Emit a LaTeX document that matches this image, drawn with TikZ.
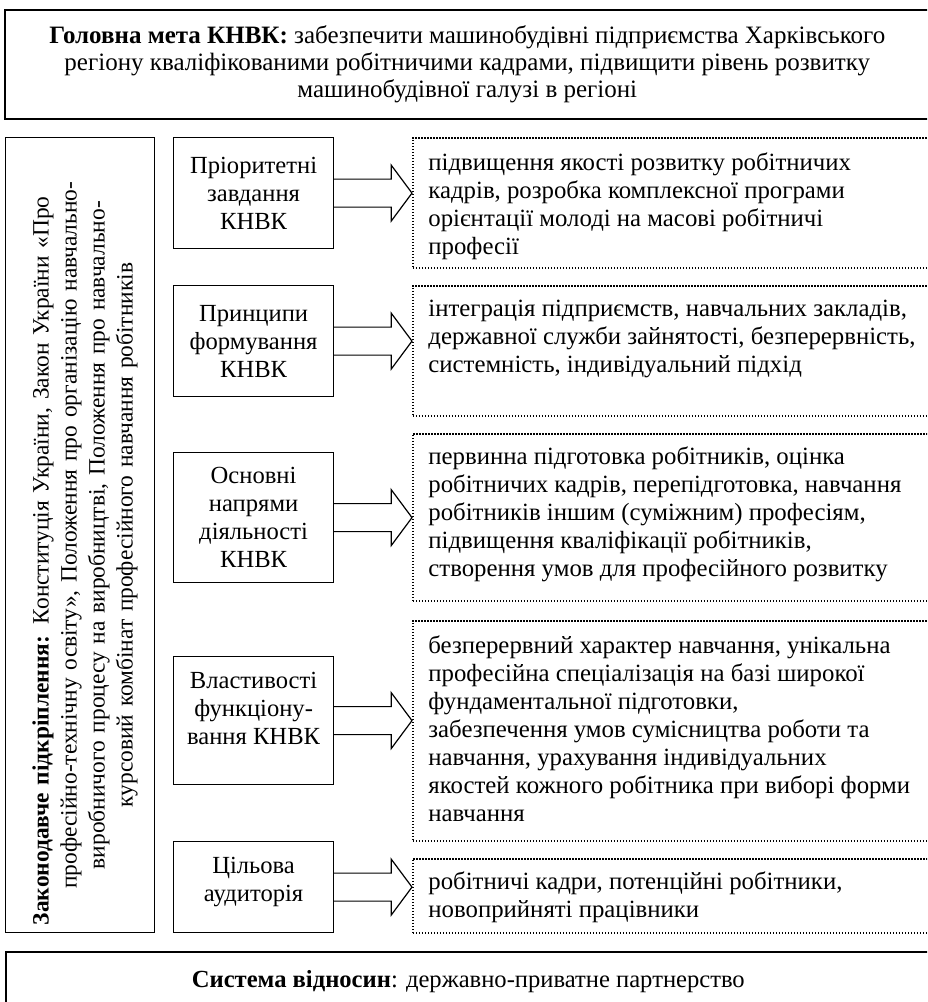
\documentclass[tikz,border=0pt]{standalone}
\usepackage{fontspec}
\setmainfont{Liberation Serif}
\usetikzlibrary{positioning,calc}

\begin{document}
\begin{tikzpicture}[
    font=\fontsize{12.3pt}{14pt}\selectfont,
    goalbox/.style={
        draw=black,
        line width=0.8pt,
        align=center,
        inner sep=0pt,
        minimum width=462.5pt,
        anchor=north west
    },
    lawbox/.style={
        draw=black,
        line width=0.6pt,
        minimum width=74.5pt,
        minimum height=397.5pt,
        anchor=north west
    },
    taskbox/.style={
        draw=black,
        line width=0.6pt,
        align=center,
        inner sep=2pt,
        minimum width=80pt,
        anchor=north west
    },
    infobox/.style={
        draw=black,
        line width=0.8pt,
        dash pattern=on 0.75pt off 0.75pt,
        minimum width=264pt,
        anchor=north west
    },
    infotext/.style={
        align=left,
        inner sep=0pt,
        font=\fontsize{12.4pt}{14pt}\selectfont,
        anchor=north west
    },
    blockarrow/.style={
        draw=black,
        line width=0.6pt,
        line join=miter
    }
]

% Page frame
\useasboundingbox (0,0) rectangle (463.5pt,-501pt);
\clip (0,0) rectangle (463.5pt,-501pt);

% Main goal
\node[goalbox, minimum height=54.5pt, font=\fontsize{12.5pt}{13.5pt}\selectfont] (goal) at (2pt,-4.5pt) {
    \textbf{Головна мета КНВК:} забезпечити машинобудівні підприємства Харківського\\
    регіону кваліфікованими робітничими кадрами, підвищити рівень розвитку\\
    машинобудівної галузі в регіоні
};

% Legal basis (vertical)
\node[lawbox] (law) at (2.5pt,-68.5pt) {};
\node[rotate=90, text width=390pt, align=center, inner sep=0pt,
      font=\fontsize{11.7pt}{14pt}\selectfont] (lawtext) at ([xshift=2.5pt]law.center) {
    \makebox[390pt][s]{\textbf{Законодавче підкріплення:} Конституція України, Закон України «Про}\\
    професійно-технічну освіту», Положення про організацію навчально-\\
    виробничого процесу на виробництві, Положення про навчально-\\
    курсовий комбінат професійного навчання робітників
};

% Task boxes
\node[taskbox, minimum height=55.5pt] (task1) at (86.5pt,-68.5pt) {Пріоритетні\\завдання\\КНВК};
\node[taskbox, minimum height=55.5pt] (task2) at (86.5pt,-142.5pt) {Принципи\\формування\\КНВК};
\node[taskbox, minimum height=65pt] (task3) at (86.5pt,-226pt) {Основні\\напрями\\діяльності\\КНВК};
\node[taskbox, minimum height=64pt] (task4) at (86.5pt,-328pt) {Властивості\\функціону-\\вання КНВК\\[-2pt]\mbox{}};
\node[taskbox, minimum height=45.5pt] (task5) at (86.5pt,-420.5pt) {Цільова\\аудиторія\\[-6pt]\mbox{}};

% Dotted description boxes
\node[infobox, minimum height=65pt] (info1) at (206pt,-68.5pt) {};
\node[infobox, minimum height=65pt] (info2) at (206pt,-142.5pt) {};
\node[infobox, minimum height=83.5pt] (info3) at (206pt,-216.5pt) {};
\node[infobox, minimum height=110pt] (info4) at (206pt,-310pt) {};
\node[infobox, minimum height=37pt] (info5) at (206pt,-429pt) {};

\node[infotext] (text1) at ([xshift=8pt,yshift=-7.5pt]info1.north west) {
    підвищення якості розвитку робітничих\\
    кадрів, розробка комплексної програми\\
    орієнтації молоді на масові робітничі\\
    професії
};
\node[infotext] (text2) at ([xshift=8pt,yshift=-7.5pt]info2.north west) {
    інтеграція підприємств, навчальних закладів,\\
    державної служби зайнятості, безперервність,\\
    системність, індивідуальний підхід
};
\node[infotext] (text3) at ([xshift=8pt,yshift=-6.5pt]info3.north west) {
    первинна підготовка робітників, оцінка\\
    робітничих кадрів, перепідготовка, навчання\\
    робітників іншим (суміжним) професіям,\\
    підвищення кваліфікації робітників,\\
    створення умов для професійного розвитку
};
\node[infotext] (text4) at ([xshift=8pt,yshift=-7.5pt]info4.north west) {
    безперервний характер навчання, унікальна\\
    професійна спеціалізація на базі широкої\\
    фундаментальної підготовки,\\
    забезпечення умов сумісництва роботи та\\
    навчання, урахування індивідуальних\\
    якостей кожного робітника при виборі форми\\
    навчання
};
\node[infotext] (text5) at ([xshift=8pt,yshift=-6.5pt]info5.north west) {
    робітничі кадри, потенційні робітники,\\
    новоприйняті працівники
};

% Block arrows
\foreach \i in {1,...,5}
    \draw[blockarrow] ([yshift=7pt]task\i.east) -- ++(28.5pt,0) -- ++(0,7pt)
        -- (info\i.west |- task\i.east)
        -- ($(task\i.east)+(28.5pt,-14pt)$) -- ++(0,7pt) -- ([yshift=-7pt]task\i.east);

% Relations
\node[goalbox, minimum height=30pt] (relations) at (2.5pt,-475.5pt) {\textbf{Система відносин}: державно-приватне партнерство};

\end{tikzpicture}
\end{document}
